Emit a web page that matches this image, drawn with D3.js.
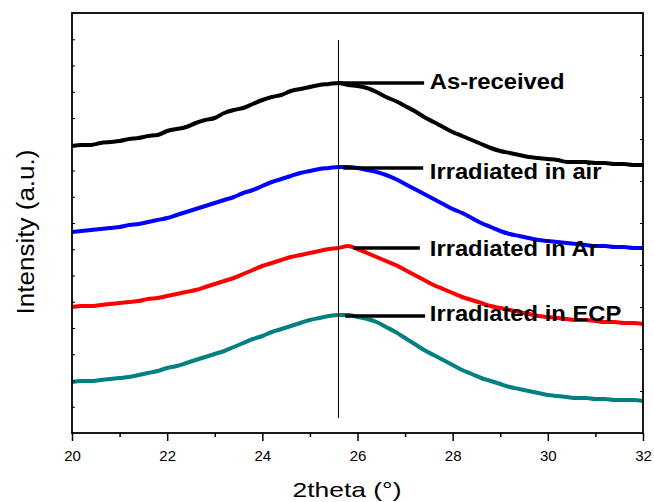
<!DOCTYPE html>
<html>
<head>
<meta charset="utf-8">
<script src="https://cdn.jsdelivr.net/npm/d3@7"></script>
<style>
  body { margin: 0; background: #fff; }
  svg { display: block; font-family: Arial, "Liberation Sans", sans-serif; }
</style>
</head>
<body>
<div id="chart"></div>
<script>
// diffraction angle grid (degrees)
const twoTheta = [
  20.0, 20.2, 20.4, 20.6, 20.8, 21.0, 21.2, 21.4, 21.6, 21.8,
  22.0, 22.2, 22.4, 22.6, 22.8, 23.0, 23.2, 23.4, 23.6, 23.8,
  24.0, 24.2, 24.4, 24.6, 24.8, 25.0, 25.2, 25.4, 25.6, 25.8,
  26.0, 26.2, 26.4, 26.6, 26.8, 27.0, 27.2, 27.4, 27.6, 27.8,
  28.0, 28.2, 28.4, 28.6, 28.8, 29.0, 29.2, 29.4, 29.6, 29.8,
  30.0, 30.2, 30.4, 30.6, 30.8, 31.0, 31.2, 31.4, 31.6, 31.8,
  32.0
];

// intensities (a.u., curves stacked with offsets)
const asReceived = [
  287, 288, 288, 290, 291, 292, 294, 295, 297, 298,
  302, 304, 306, 310, 313, 315, 320, 323, 325, 329,
  333, 336, 338, 342, 344, 346, 348, 349, 350, 348,
  347, 345, 341, 336, 332, 327, 322, 316, 311, 306,
  301, 297, 293, 289, 285, 282, 280, 278, 276, 275,
  274, 273, 271, 271, 271, 270, 270, 269, 269, 268,
  268
];
const irradiatedAir = [
  201, 202, 203, 204, 205, 206, 208, 209, 211, 213,
  215, 218, 221, 224, 227, 230, 233, 236, 240, 243,
  247, 251, 254, 257, 260, 262, 264, 265, 266, 266,
  265, 263, 261, 258, 254, 249, 244, 239, 234, 229,
  224, 220, 215, 210, 206, 202, 199, 197, 195, 193,
  192, 191, 190, 189, 188, 187, 187, 186, 186, 185,
  185
];
const irradiatedAr = [
  126, 127, 127, 128, 129, 130, 131, 132, 134, 135,
  137, 139, 141, 143, 146, 149, 152, 155, 159, 163,
  167, 170, 173, 176, 178, 180, 182, 184, 185, 187,
  184, 180, 176, 172, 168, 163, 158, 153, 148, 144,
  140, 136, 133, 130, 127, 125, 123, 121, 119, 117,
  116, 115, 114, 113, 113, 112, 111, 111, 110, 110,
  109
];
const irradiatedEcp = [
  51, 52, 52, 53, 54, 55, 56, 58, 60, 62,
  65, 67, 70, 73, 76, 79, 82, 86, 90, 94,
  97, 101, 104, 107, 110, 113, 115, 117, 118, 118,
  116, 114, 111, 106, 101, 95, 89, 83, 78, 73,
  68, 63, 59, 55, 52, 49, 46, 44, 42, 40,
  38, 37, 36, 35, 35, 34, 34, 33, 33, 33,
  32
];

const seriesNames = ["As-received", "Irradiated in air", "Irradiated in Ar", "Irradiated in ECP"];
const xTicks = [20, 22, 24, 26, 28, 30, 32];
const xMinorTicks = [21, 23, 25, 27, 29, 31];
const peakPosition = 25.6;

const seriesValues = [asReceived, irradiatedAir, irradiatedAr, irradiatedEcp];
const seriesColors = ["#000000", "#0000ff", "#ff0000", "#008080"];

// annotation layout: leader line span (deg), level (a.u.), text baseline offset (px)
const labelLayout = [
  { x0: 25.59, x1: 27.40, level: 350, dy: 6 },
  { x0: 25.70, x1: 27.38, level: 265, dy: 11 },
  { x0: 25.91, x1: 27.31, level: 185, dy: 8 },
  { x0: 25.74, x1: 27.42, level: 117, dy: 5 }
];
const labelTextX = 27.52;

const W = 654, H = 502;
const margin = { top: 13, right: 11, bottom: 69, left: 72 };
const width = W - margin.left - margin.right;
const height = H - margin.top - margin.bottom;

const svg = d3.select("#chart")
  .append("svg")
  .attr("width", W)
  .attr("height", H);

const g = svg.append("g")
  .attr("transform", `translate(${margin.left},${margin.top})`);

const x = d3.scaleLinear().domain([20, 32]).range([0, width]);
const y = d3.scaleLinear().domain([0, 420]).range([height, 0]);

// curves
const line = d3.line()
  .x((d, i) => x(twoTheta[i]))
  .y(d => y(d))
  .curve(d3.curveMonotoneX);

seriesValues.forEach((vals, k) => {
  g.append("path")
    .datum(vals)
    .attr("fill", "none")
    .attr("stroke", seriesColors[k])
    .attr("stroke-width", 4)
    .attr("stroke-linejoin", "round")
    .attr("d", line);
});

// peak marker line
g.append("line")
  .attr("x1", x(peakPosition)).attr("x2", x(peakPosition))
  .attr("y1", y(393)).attr("y2", y(15))
  .attr("stroke", "#000")
  .attr("stroke-width", 1);

// leader lines + labels
labelLayout.forEach((l, k) => {
  g.append("line")
    .attr("x1", x(l.x0)).attr("x2", x(l.x1))
    .attr("y1", y(l.level)).attr("y2", y(l.level))
    .attr("stroke", "#000")
    .attr("stroke-width", 3.5);

  const t = g.append("text")
    .attr("x", x(labelTextX))
    .attr("y", y(l.level) + l.dy)
    .attr("font-size", 22)
    .attr("font-weight", "bold")
    .attr("fill", "#000")
    .text(seriesNames[k]);
  const len = t.node().getComputedTextLength();
  t.attr("textLength", len * 1.08).attr("lengthAdjust", "spacingAndGlyphs");
});

// axes
g.append("g")
  .attr("transform", `translate(0,${height})`)
  .call(d3.axisBottom(x).tickValues(xTicks).tickSize(8).tickPadding(9).tickFormat(d3.format("d")))
  .call(a => a.select(".domain").remove())
  .call(a => a.selectAll("line").attr("stroke-width", 1.5))
  .call(a => a.selectAll("text").attr("font-size", 15).attr("fill", "#000"));

g.append("g")
  .attr("transform", `translate(0,${height})`)
  .call(d3.axisBottom(x).tickValues(xMinorTicks).tickSize(4).tickFormat(""))
  .call(a => a.select(".domain").remove())
  .call(a => a.selectAll("line").attr("stroke-width", 1.5));

g.append("g")
  .call(d3.axisLeft(y).tickValues(d3.range(0, 421, 26.25)).tickSize(-3).tickFormat(""))
  .call(a => a.select(".domain").remove());

g.append("g")
  .attr("transform", `translate(${width},0)`)
  .call(d3.axisRight(y).tickValues(d3.range(0, 421, 42)).tickSize(-3).tickFormat(""))
  .call(a => a.select(".domain").remove());

// frame
g.append("rect")
  .attr("width", width)
  .attr("height", height)
  .attr("fill", "none")
  .attr("stroke", "#000")
  .attr("stroke-width", 1.8);

// axis titles
svg.append("text")
  .attr("x", 347)
  .attr("y", 497)
  .attr("text-anchor", "middle")
  .attr("font-size", 21)
  .attr("textLength", 109)
  .attr("lengthAdjust", "spacingAndGlyphs")
  .text("2theta (°)");

svg.append("text")
  .attr("transform", "translate(34,232) rotate(-90)")
  .attr("text-anchor", "middle")
  .attr("font-size", 23)
  .attr("textLength", 165)
  .attr("lengthAdjust", "spacingAndGlyphs")
  .text("Intensity (a.u.)");
</script>
</body>
</html>
